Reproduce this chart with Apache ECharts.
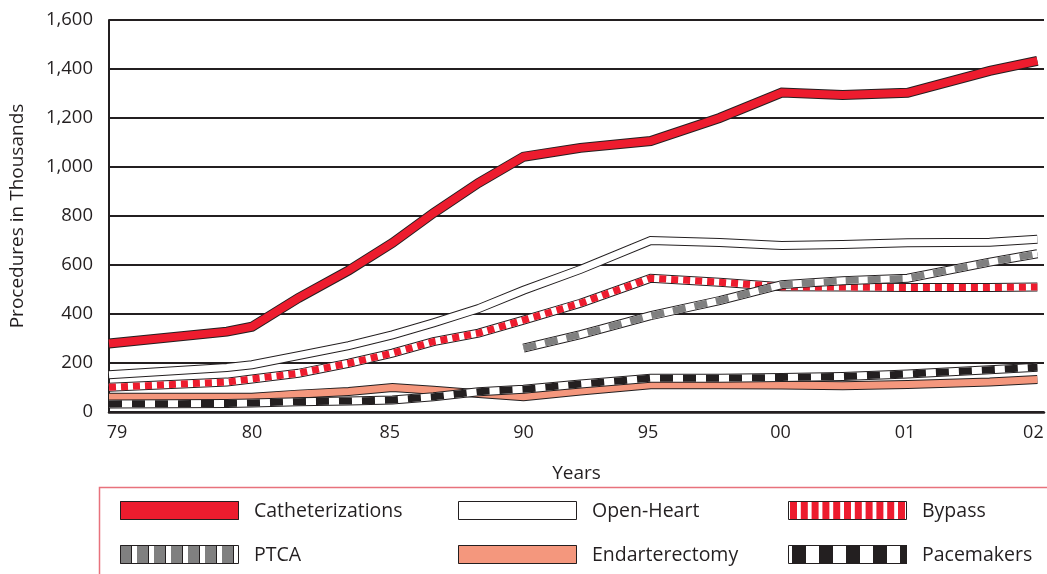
<!DOCTYPE html>
<html>
<head>
<meta charset="utf-8">
<script src="https://cdn.jsdelivr.net/npm/echarts@6/dist/echarts.min.js"></script>
<style>
  html, body { margin: 0; padding: 0; background: #fff; }
  #chart { width: 1047px; height: 574px; }
</style>
</head>
<body>
<div id="chart"></div>
<script>
// Year ticks and their positions along the horizontal scale
const yearLabels = ['79', '80', '85', '90', '95', '00', '01', '02'];
const yearPos = [0.06, 1.08, 2.12, 3.13, 4.07, 5.07, 6.01, 6.98];

// Positions of the plotted readings along the same scale
const samplePos = [0, 0.89, 1.08, 1.43, 1.81, 2.14, 2.45, 2.79, 3.13, 3.56, 4.09, 4.61, 5.08, 5.54, 6.03, 6.65, 7.01];

// Procedures in thousands
const catheterizations = [280, 328, 348, 465, 578, 690, 812, 935, 1042, 1078, 1106, 1200, 1304, 1294, 1303, 1392, 1433];
const openHeart        = [152, 182, 193, 230, 271, 315, 364, 422, 497, 582, 700, 692, 680, 684, 691, 693, 705];
const bypass           = [101, 122, 135, 158, 199, 240, 287, 322, 375, 444, 546, 530, 511, 510, 508, 508, 510];
const ptca             = [null, null, null, null, null, null, null, null, 261, 316, 393, 455, 520, 536, 546, 612, 646];
const endarterectomy   = [60, 60, 60, 73, 84, 100, 89, 75, 62, 86, 111, 111, 110, 107, 112, 122, 133];
const pacemakers       = [33, 35, 37, 42, 45, 49, 62, 83, 93, 114, 138, 138, 141, 145, 155, 172, 183];

const yTicks = [0, 200, 400, 600, 800, 1000, 1200, 1400, 1600];

const RED = '#ed1c2e';
const SALMON = '#f4977d';
const GRAY = '#808080';
const INK = '#231f20';
const FONT = '"Open Sans", "Noto Sans", sans-serif';

// Each line is an outlined band: dark outline, body, and an optional dashed colour on top
const lineDefs = [
  { name: 'Catheterizations', values: catheterizations, color: RED, dash: null, width: 8 },
  { name: 'Open-Heart', values: openHeart, color: '#ffffff', dash: null, width: 7 },
  { name: 'Bypass', values: bypass, color: RED, dash: [7, 5], width: 7 },
  { name: 'PTCA', values: ptca, color: GRAY, dash: [13, 9], width: 7 },
  { name: 'Endarterectomy', values: endarterectomy, color: SALMON, dash: null, width: 7 },
  { name: 'Pacemakers', values: pacemakers, color: INK, dash: [13, 10], width: 7 }
];

const series = [];
lineDefs.forEach(function (d) {
  const data = samplePos.map(function (x, i) { return [x, d.values[i]]; })
    .filter(function (p) { return p[1] != null; });
  const base = { type: 'line', data: data, symbol: 'none', silent: true, animation: false };
  series.push(Object.assign({}, base, {
    name: d.name,
    lineStyle: { color: INK, width: d.width + 2, cap: 'butt', join: 'miter' }
  }));
  series.push(Object.assign({}, base, {
    lineStyle: { color: d.dash ? '#ffffff' : d.color, width: d.width, cap: 'butt', join: 'miter' }
  }));
  if (d.dash) {
    series.push(Object.assign({}, base, {
      lineStyle: { color: d.color, width: d.width, type: d.dash, cap: 'butt', join: 'miter' }
    }));
  }
});

// Legend swatches with the same fills as the lines
const legendItems = [
  { name: 'Catheterizations', col: 0, row: 0, bg: RED },
  { name: 'Open-Heart', col: 1, row: 0, bg: '#ffffff' },
  { name: 'Bypass', col: 2, row: 0, bg: '#ffffff', stripe: RED, period: 10.8, on: 7, offset: 2 },
  { name: 'PTCA', col: 0, row: 1, bg: '#ffffff', stripe: GRAY, period: 17, on: 11, offset: 0, sep: true },
  { name: 'Endarterectomy', col: 1, row: 1, bg: SALMON },
  { name: 'Pacemakers', col: 2, row: 1, bg: '#ffffff', stripe: INK, period: 27, on: 14, offset: 4 }
];
const colX = [120, 458, 788];
const rowY = [501, 545];
const swW = 119, swH = 19;

const legendGraphics = [{
  type: 'rect', silent: true,
  shape: { x: 99.5, y: 487.5, width: 1000, height: 200 },
  style: { fill: 'none', stroke: '#e8727c', lineWidth: 1.5 }
}];
legendItems.forEach(function (it) {
  const x0 = colX[it.col], y0 = rowY[it.row];
  const children = [{ type: 'rect', shape: { x: 0, y: 0, width: swW, height: swH }, style: { fill: it.bg } }];
  if (it.stripe) {
    for (let s = it.offset; s < swW; s += it.period) {
      const w = Math.min(it.on, swW - s);
      children.push({ type: 'rect', shape: { x: s, y: 0, width: w, height: swH }, style: { fill: it.stripe } });
      if (it.sep) {
        children.push({ type: 'rect', shape: { x: s + it.on, y: 0, width: 1, height: swH }, style: { fill: INK } });
      }
    }
  }
  children.push({ type: 'rect', shape: { x: 0.5, y: 0.5, width: swW - 1, height: swH - 1 }, style: { fill: 'none', stroke: INK, lineWidth: 1 } });
  legendGraphics.push({ type: 'group', x: x0, y: y0, silent: true, children: children });
  legendGraphics.push({
    type: 'text', x: x0 + 134, y: y0 + swH / 2 + 1, silent: true,
    style: { text: it.name, font: '19.5px ' + FONT, fill: INK, verticalAlign: 'middle', textAlign: 'left' }
  });
});

const chart = echarts.init(document.getElementById('chart'), null, { renderer: 'canvas' });
chart.setOption({
  backgroundColor: '#ffffff',
  animation: false,
  grid: { left: 109, right: 3, top: 20, bottom: 162, containLabel: false },
  xAxis: {
    type: 'value', min: 0, max: 7.06,
    name: 'Years', nameLocation: 'middle', nameGap: 52,
    nameTextStyle: { fontFamily: FONT, fontSize: 19, color: INK },
    axisLine: { show: true, onZero: false, lineStyle: { color: INK, width: 2.5 } },
    axisTick: { show: false },
    splitLine: { show: false },
    axisLabel: {
      customValues: yearPos,
      fontFamily: FONT, fontSize: 18, color: INK, margin: 12,
      formatter: function (v) {
        let best = 0;
        yearPos.forEach(function (p, i) { if (Math.abs(p - v) < Math.abs(yearPos[best] - v)) best = i; });
        return yearLabels[best];
      }
    }
  },
  yAxis: {
    type: 'value', min: 0, max: 1600, interval: 200,
    name: 'Procedures in Thousands', nameLocation: 'middle', nameGap: 82,
    nameTextStyle: { fontFamily: FONT, fontSize: 19, color: INK },
    axisLine: { show: true, lineStyle: { color: INK, width: 2 } },
    axisTick: { show: false },
    splitLine: { show: true, lineStyle: { color: INK, width: 2 } },
    axisLabel: {
      customValues: yTicks,
      fontFamily: FONT, fontSize: 18.5, color: INK, margin: 16,
      formatter: function (v) { return v.toLocaleString('en-US'); }
    }
  },
  series: series,
  graphic: legendGraphics
});
</script>
</body>
</html>
